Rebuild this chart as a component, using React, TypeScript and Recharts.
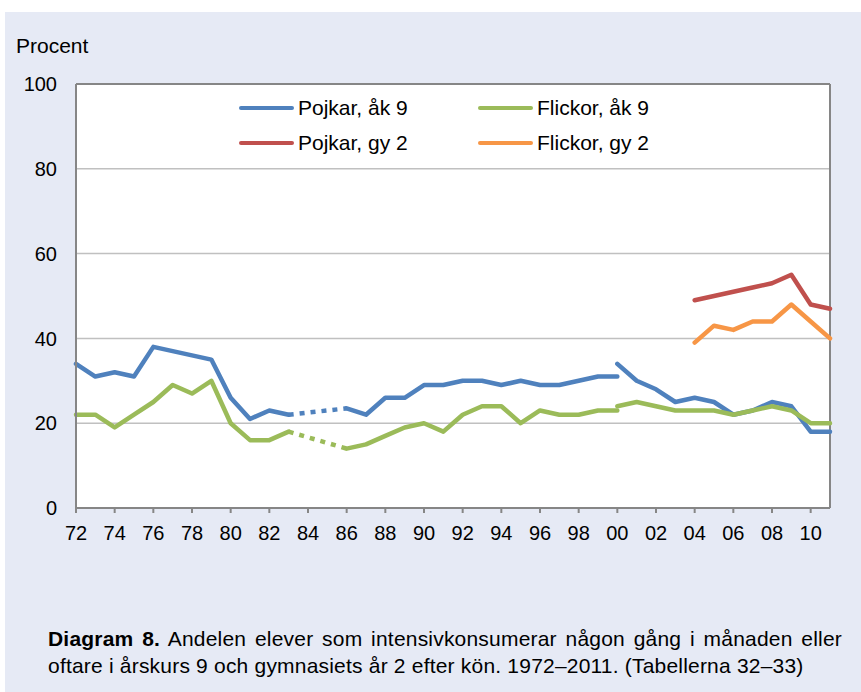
import { LineChart, Line, XAxis, YAxis, CartesianGrid, ReferenceLine } from 'recharts'

// år 1972-1983 (före uppehållet)
const yearsA = [1972, 1973, 1974, 1975, 1976, 1977, 1978, 1979, 1980, 1981, 1982, 1983]
const pojkarAk9A = [34, 31, 32, 31, 38, 37, 36, 35, 26, 21, 23, 22]
const flickorAk9A = [22, 22, 19, 22, 25, 29, 27, 30, 20, 16, 16, 18]

// streckad del, inga mätningar 1984-1985
const yearsGap = [1983, 1986]
const pojkarAk9Gap = [22, 23.5]
const flickorAk9Gap = [18, 14]

// år 1986-2000
const yearsB = [1986, 1987, 1988, 1989, 1990, 1991, 1992, 1993, 1994, 1995, 1996, 1997, 1998, 1999, 2000]
const pojkarAk9B = [23.5, 22, 26, 26, 29, 29, 30, 30, 29, 30, 29, 29, 30, 31, 31]
const flickorAk9B = [14, 15, 17, 19, 20, 18, 22, 24, 24, 20, 23, 22, 22, 23, 23]

// ny metod från 2000
const yearsC = [2000, 2001, 2002, 2003, 2004, 2005, 2006, 2007, 2008, 2009, 2010, 2011]
const pojkarAk9C = [34, 30, 28, 25, 26, 25, 22, 23, 25, 24, 18, 18]
const flickorAk9C = [24, 25, 24, 23, 23, 23, 22, 23, 24, 23, 20, 20]

// gymnasiet år 2
const yearsGy = [2004, 2005, 2006, 2007, 2008, 2009, 2010, 2011]
const pojkarGy2 = [49, 50, 51, 52, 53, 55, 48, 47]
const flickorGy2 = [39, 43, 42, 44, 44, 48, 44, 40]

const xTicks = [1972, 1974, 1976, 1978, 1980, 1982, 1984, 1986, 1988, 1990, 1992, 1994, 1996, 1998, 2000, 2002, 2004, 2006, 2008, 2010]
const yTicks = [0, 20, 40, 60, 80, 100]

const legendItems = [
  { name: 'Pojkar, åk 9', color: '#4F81BD' },
  { name: 'Flickor, åk 9', color: '#9BBB59' },
  { name: 'Pojkar, gy 2', color: '#C0504D' },
  { name: 'Flickor, gy 2', color: '#F79646' },
]

const BLUE = '#4F81BD'
const GREEN = '#9BBB59'
const RED = '#C0504D'
const ORANGE = '#F79646'
const BORDER = '#868686'
const FONT = "'Liberation Sans', Arial, sans-serif"

function rows(xs: number[], ys: number[]) {
  return xs.map((year, i) => ({ year, value: ys[i] }))
}

function SeriesLine({ data, color, dashed }: any) {
  return (
    <Line
      data={data}
      dataKey="value"
      type="linear"
      stroke={color}
      strokeWidth={4.5}
      strokeDasharray={dashed ? '5 6' : undefined}
      strokeLinecap={dashed ? 'butt' : 'round'}
      strokeLinejoin="round"
      dot={false}
      activeDot={false}
      legendType="none"
      isAnimationActive={false}
    />
  )
}

export default function App() {
  return (
    <div
      style={{
        position: 'absolute',
        left: 0,
        top: 0,
        width: 861,
        height: 692,
        background: '#fff',
        fontFamily: FONT,
      }}
    >
      {/* bakgrund */}
      <div
        style={{
          position: 'absolute',
          left: 5,
          top: 12,
          right: 0,
          bottom: 0,
          background: '#E6EAF5',
        }}
      />

      <div
        style={{
          position: 'absolute',
          left: 16,
          top: 32,
          fontSize: 21,
          lineHeight: '27px',
          color: '#000',
        }}
      >
        Procent
      </div>

      <div style={{ position: 'absolute', left: 0, top: 0 }}>
        <LineChart
          width={861}
          height={692}
          margin={{ top: 84, right: 31, bottom: 154, left: 0 }}
          style={{ fontFamily: FONT }}
        >
          <CartesianGrid
            horizontal
            vertical={false}
            stroke="#C0C0C0"
            strokeWidth={1.5}
            fill="#fff"
            fillOpacity={1}
          />
          <XAxis
            dataKey="year"
            type="number"
            domain={[1972, 2011]}
            ticks={xTicks}
            allowDuplicatedCategory={false}
            tickFormatter={(y: number) => String(y % 100).padStart(2, '0')}
            interval={0}
            height={30}
            axisLine={{ stroke: BORDER, strokeWidth: 2 }}
            tickLine={{ stroke: BORDER, strokeWidth: 2 }}
            tickSize={5}
            tickMargin={13}
            tick={{ fill: '#000', fontSize: 20, fontFamily: FONT }}
          />
          <YAxis
            type="number"
            domain={[0, 100]}
            ticks={yTicks}
            interval={0}
            width={76}
            axisLine={{ stroke: BORDER, strokeWidth: 2 }}
            tickLine={false}
            tickSize={8}
            tickMargin={11}
            tick={{ fill: '#000', fontSize: 20, fontFamily: FONT }}
          />
          <ReferenceLine y={100} stroke={BORDER} strokeWidth={2} />
          <ReferenceLine x={2011} stroke={BORDER} strokeWidth={2} />

          {SeriesLine({ data: rows(yearsA, pojkarAk9A), color: BLUE })}
          {SeriesLine({ data: rows(yearsGap, pojkarAk9Gap), color: BLUE, dashed: true })}
          {SeriesLine({ data: rows(yearsB, pojkarAk9B), color: BLUE })}
          {SeriesLine({ data: rows(yearsC, pojkarAk9C), color: BLUE })}

          {SeriesLine({ data: rows(yearsA, flickorAk9A), color: GREEN })}
          {SeriesLine({ data: rows(yearsGap, flickorAk9Gap), color: GREEN, dashed: true })}
          {SeriesLine({ data: rows(yearsB, flickorAk9B), color: GREEN })}
          {SeriesLine({ data: rows(yearsC, flickorAk9C), color: GREEN })}

          {SeriesLine({ data: rows(yearsGy, pojkarGy2), color: RED })}
          {SeriesLine({ data: rows(yearsGy, flickorGy2), color: ORANGE })}
        </LineChart>
      </div>

      {/* legend */}
      {legendItems.map((item, i) => {
        const col = i % 2
        const row = Math.floor(i / 2)
        return (
          <div
            key={item.name}
            style={{
              position: 'absolute',
              left: col === 0 ? 239 : 478,
              top: 108 + row * 35 - 14,
              height: 28,
              display: 'flex',
              alignItems: 'center',
              fontSize: 21,
              color: '#000',
              whiteSpace: 'nowrap',
            }}
          >
            <span
              style={{
                display: 'inline-block',
                width: 55,
                height: 4.5,
                borderRadius: 3,
                background: item.color,
                marginRight: 4,
              }}
            />
            {item.name}
          </div>
        )
      })}

      {/* caption */}
      <div
        style={{
          position: 'absolute',
          left: 48,
          top: 625,
          width: 794,
          fontFamily: "'Liberation Sans Narrow', 'Arial Narrow', 'Liberation Sans', Arial, sans-serif",
          fontSize: 21,
          lineHeight: '27px',
          letterSpacing: 0.2,
          color: '#000',
        }}
      >
        <div style={{ textAlign: 'justify', textAlignLast: 'justify', whiteSpace: 'nowrap' }}>
          <b>Diagram 8.</b> Andelen elever som intensivkonsumerar någon gång i månaden eller
        </div>
        <div style={{ whiteSpace: 'nowrap' }}>
          oftare i årskurs 9 och gymnasiets år 2 efter kön. 1972–2011. (Tabellerna 32–33)
        </div>
      </div>
    </div>
  )
}
